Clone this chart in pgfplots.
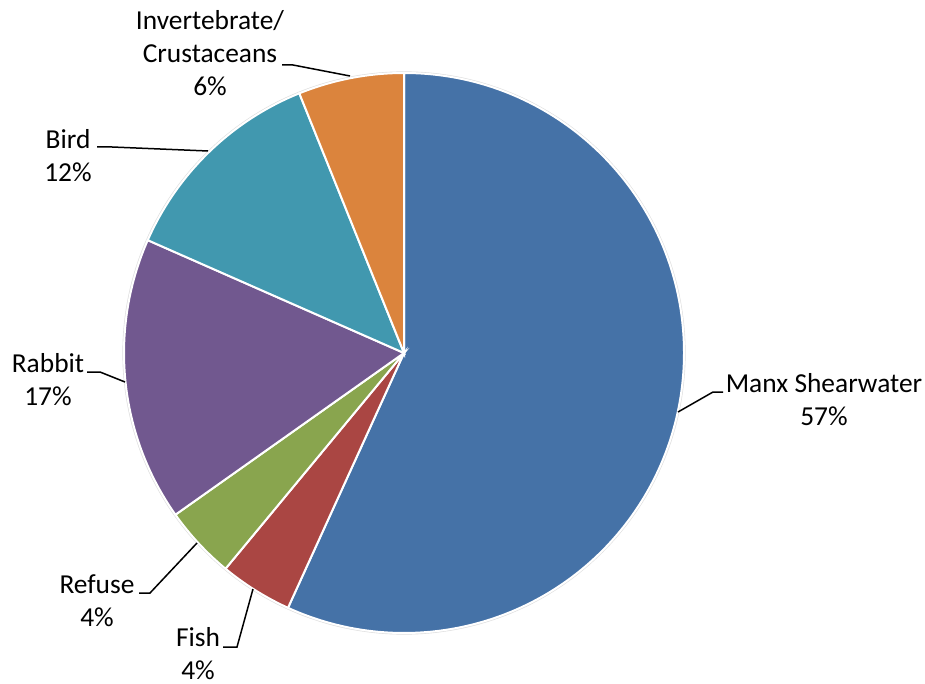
\documentclass[border=0pt]{standalone}
\usepackage{pgfplots}
\usepackage{pgfplotstable}
\pgfplotsset{compat=1.18}
\usepackage{fontspec}
\setmainfont{Carlito}
\definecolor{cManx}{HTML}{4572A7}
\definecolor{cFish}{HTML}{AA4643}
\definecolor{cRefuse}{HTML}{89A54E}
\definecolor{cRabbit}{HTML}{71588F}
\definecolor{cBird}{HTML}{4198AF}
\definecolor{cInvert}{HTML}{DB843D}
\pgfplotstableread{
name value
Manx 56.8
Fish 4.2
Refuse 4.2
Rabbit 16.4
Bird 12.3
Invert 6.1
}\piedata
\begin{document}%
\begin{tikzpicture}
\pgfplotstablegetelem{0}{value}\of\piedata\pgfmathsetmacro\vA{\pgfplotsretval}
\pgfplotstablegetelem{1}{value}\of\piedata\pgfmathsetmacro\vB{\pgfplotsretval}
\pgfplotstablegetelem{2}{value}\of\piedata\pgfmathsetmacro\vC{\pgfplotsretval}
\pgfplotstablegetelem{3}{value}\of\piedata\pgfmathsetmacro\vD{\pgfplotsretval}
\pgfplotstablegetelem{4}{value}\of\piedata\pgfmathsetmacro\vE{\pgfplotsretval}
\pgfplotstablegetelem{5}{value}\of\piedata\pgfmathsetmacro\vF{\pgfplotsretval}
\pgfmathsetmacro\aA{90}
\pgfmathsetmacro\aB{\aA-3.6*\vA}
\pgfmathsetmacro\aC{\aB-3.6*\vB}
\pgfmathsetmacro\aD{\aC-3.6*\vC}
\pgfmathsetmacro\aE{\aD-3.6*\vD}
\pgfmathsetmacro\aF{\aE-3.6*\vE}
\pgfmathsetmacro\aG{\aF-3.6*\vF}
\begin{axis}[hide axis, scale only axis, width=462.5pt, height=342pt,
  xmin=0, xmax=925, ymin=0, ymax=684, y dir=reverse, clip=false]
\path (axis cs:0,0) rectangle (axis cs:925,684);
\fill[gray!25] (axis cs:404,353) circle[radius=140.8pt];
\fill[cManx, draw=white, line width=1pt] (axis cs:404,353) -- ++(\aA:140pt) arc[start angle=\aA, end angle=\aB, radius=140pt] -- cycle;
\fill[cFish, draw=white, line width=1pt] (axis cs:404,353) -- ++(\aB:140pt) arc[start angle=\aB, end angle=\aC, radius=140pt] -- cycle;
\fill[cRefuse, draw=white, line width=1pt] (axis cs:404,353) -- ++(\aC:140pt) arc[start angle=\aC, end angle=\aD, radius=140pt] -- cycle;
\fill[cRabbit, draw=white, line width=1pt] (axis cs:404,353) -- ++(\aD:140pt) arc[start angle=\aD, end angle=\aE, radius=140pt] -- cycle;
\fill[cBird, draw=white, line width=1pt] (axis cs:404,353) -- ++(\aE:140pt) arc[start angle=\aE, end angle=\aF, radius=140pt] -- cycle;
\fill[cInvert, draw=white, line width=1pt] (axis cs:404,353) -- ++(\aF:140pt) arc[start angle=\aF, end angle=\aG, radius=140pt] -- cycle;
% leader lines
\tikzset{lead/.style={black, line width=0.75pt}}
\draw[lead] (axis cs:282,65) -- (axis cs:293,65) -- (axis cs:350,76);
\draw[lead] (axis cs:97,147) -- (axis cs:112,147) -- (axis cs:208,151);
\draw[lead] (axis cs:87,372) -- (axis cs:100,372) -- (axis cs:125,382);
\draw[lead] (axis cs:678,412) -- (axis cs:713,392) -- (axis cs:723,392);
\draw[lead] (axis cs:139,593) -- (axis cs:150,593) -- (axis cs:197,543);
\draw[lead] (axis cs:223,647) -- (axis cs:237,647) -- (axis cs:253,589);
% labels
\tikzset{lab/.style={align=center, inner sep=0pt, font=\fontsize{13.7}{16.5}\selectfont}}
\node[lab] at (axis cs:210,53) {Invertebrate/\\Crustaceans\\6\%};
\node[lab] at (axis cs:68,156) {Bird\\12\%};
\node[lab] at (axis cs:48,380) {Rabbit\\17\%};
\node[lab] at (axis cs:824,400) {Manx Shearwater\\57\%};
\node[lab] at (axis cs:97,601) {Refuse\\4\%};
\node[lab] at (axis cs:198,654) {Fish\\4\%};
\end{axis}
\end{tikzpicture}%
\end{document}
